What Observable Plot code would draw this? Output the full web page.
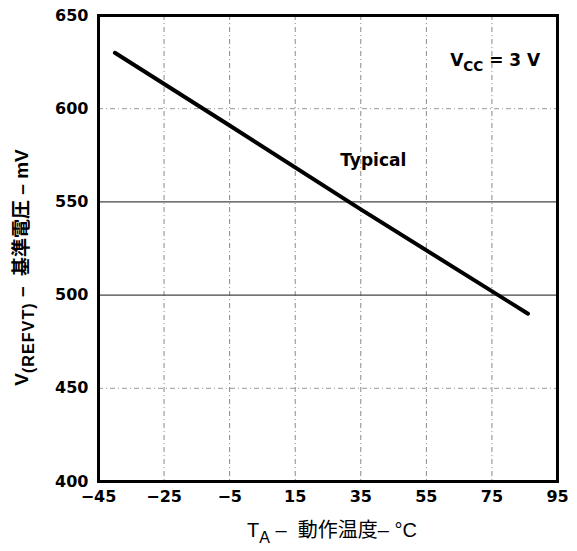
<!DOCTYPE html>
<html><head><meta charset="utf-8">
<script src="https://cdn.jsdelivr.net/npm/d3@7"></script>
<script src="https://cdn.jsdelivr.net/npm/@observablehq/plot@0.6"></script>
<style>body{margin:0;background:#fff}</style>
</head><body><div id="chart"></div>
<script>
const temps = [-40, -5, 35, 86];
const vref = [630, 591, 546, 490];
const xTicks = [-45, -25, -5, 15, 35, 55, 75, 95];
const yTicks = [400, 450, 500, 550, 600, 650];
const solidGrid = [500, 550];
const dashedGrid = [450, 600];
const annX = [76, 38.8];
const annY = [626, 572];
const annText = ["VCC = 3 V", "Typical"];
const xLabel = "TA – 動作温度– °C";
const yLabel = "V(REFVT) – 基準電圧 – mV";

const line = temps.map((t, i) => ({t, v: vref[i]}));
const ann = annText.map((s, i) => ({x: annX[i], y: annY[i], s}));
const labelFont = "'Liberation Sans','Noto Sans CJK JP', sans-serif";

const plot = Plot.plot({
  width: 577, height: 551,
  marginLeft: 98, marginRight: 20, marginTop: 15, marginBottom: 70,
  style: {fontFamily: "'DejaVu Sans', sans-serif", fontWeight: "bold", fontSize: "16px", color: "#000", background: "#fff"},
  x: {domain: [-45, 95]},
  y: {domain: [400, 650]},
  marks: [
    Plot.ruleX(xTicks.slice(1, -1), {stroke: "#888", strokeWidth: 1, strokeDasharray: "5,3,1,3"}),
    Plot.ruleY(dashedGrid, {stroke: "#999", strokeWidth: 1, strokeDasharray: "5,3,1,3"}),
    Plot.ruleY(solidGrid, {stroke: "#444", strokeWidth: 1.2}),
    Plot.line(line, {x: "t", y: "v", stroke: "#000", strokeWidth: 4}),
    Plot.frame({stroke: "#000", strokeWidth: 3}),
    Plot.axisX({ticks: xTicks, tickSize: 0, tickPadding: 9, label: null, fontSize: 16, fontWeight: "bold"}),
    Plot.axisY({ticks: yTicks, tickSize: 0, tickPadding: 10, label: null, fontSize: 16, fontWeight: "bold"}),
    Plot.text(ann, {x: "x", y: "y", text: "s", fontSize: 17, fontWeight: "bold", fontFamily: "'DejaVu Sans', sans-serif"}),
    Plot.text([xLabel], {frameAnchor: "bottom", lineAnchor: "middle", textAnchor: "middle", dx: 4, dy: 49, fontSize: 20, fontWeight: "normal", fontFamily: labelFont}),
    Plot.text([yLabel], {frameAnchor: "left", lineAnchor: "middle", textAnchor: "middle", dx: -77, dy: 19, rotate: -90, fontSize: 19, fontWeight: "bold", fontFamily: labelFont})
  ]
});
document.getElementById("chart").append(plot);

function rich(el, parts, shift, subSize, spacing) {
  const t = d3.select(el);
  t.text(null);
  let prevSub = false;
  parts.forEach(([s, sub]) => {
    const ts = t.append("tspan").text(s);
    if (sub) {
      ts.attr("dy", shift).attr("font-size", subSize);
      if (spacing) ts.attr("letter-spacing", spacing);
    } else if (prevSub) { ts.attr("dy", -shift); }
    prevSub = sub;
  });
}
d3.select(plot).selectAll("text").each(function() {
  const c = this.textContent;
  if (c === "VCC = 3 V") rich(this, [["V", false], ["CC", true], [" = 3 V", false]], 5, "0.8em");
  else if (c === xLabel) rich(this, [["T", false], ["A", true], [" –  動作温度– °C", false]], 6, "0.8em");
  else if (c === yLabel) rich(this, [["V", false], ["(REFVT)", true], [" –  基準電圧 – mV", false]], 6, "0.85em", 1);
});
</script>
</body></html>
